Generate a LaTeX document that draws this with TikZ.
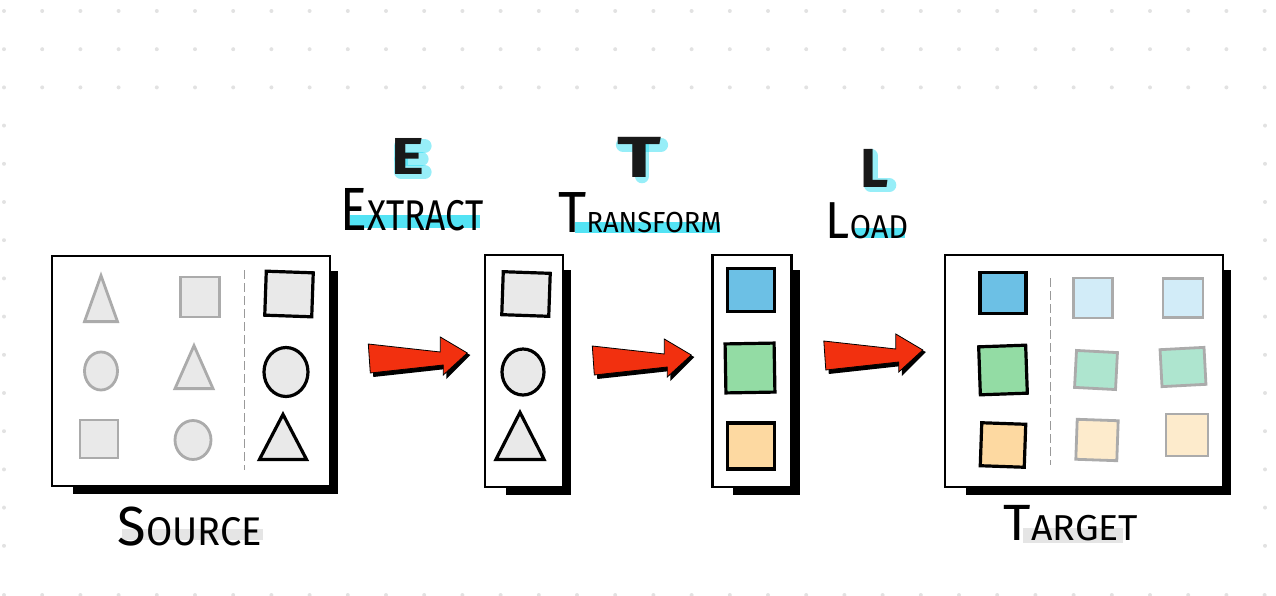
\documentclass[tikz,border=0pt]{standalone}
\usepackage{fontspec}
\setmainfont{Fira Sans}
\usetikzlibrary{positioning, calc, shapes.geometric, backgrounds}
\definecolor{ghostLine}{HTML}{ABABAB}
\definecolor{shapeFill}{HTML}{E9E9E9}
\definecolor{dotGrey}{HTML}{E2E2E2}
\definecolor{arrowRed}{HTML}{F2300F}
\definecolor{glowCyan}{HTML}{19D9F0}
\definecolor{blueFull}{HTML}{6CC0E5}
\definecolor{greenFull}{HTML}{93DCA4}
\definecolor{orangeFull}{HTML}{FDD9A1}
\definecolor{blueFade}{HTML}{D2ECF8}
\definecolor{greenFade}{HTML}{AEE5CF}
\definecolor{orangeFade}{HTML}{FDEBCC}
\definecolor{markGrey}{HTML}{DCDCDC}
\tikzset{
  panel/.style={rectangle, draw=black, line width=2.6pt, fill=white, inner sep=0pt},
  ghost/.style={draw=ghostLine, line width=2.8pt, fill=shapeFill, inner sep=0pt},
  inked/.style={draw=black, line width=3.2pt, fill=shapeFill, inner sep=0pt},
  tinted/.style={draw=black, line width=3.2pt, fill=#1, inner sep=0pt},
  faded/.style={draw=ghostLine, line width=2.8pt, fill=#1, inner sep=0pt},
  tri/.style={isosceles triangle, isosceles triangle stretches, shape border rotate=90, anchor=lower side},
  oval/.style={ellipse},
  divider/.style={draw=gray!80, line width=0.8pt, dash pattern=on 9pt off 4pt},
  word/.style={anchor=base, inner sep=0pt, text=black},
  bigletter/.style={font=\bfseries\fontsize{#1}{#1}\selectfont, inner sep=0pt, text=black!90},
  hilite/.style={fill=#1, opacity=0.75},
  glow/.style={draw=glowCyan, line width=14pt, opacity=0.45, line cap=round, line join=round},
}
% first letter large, the rest in smaller capitals, squeezed to the hand-drawn width
\newcommand{\capword}[5]{\scalebox{#5}[1]{{\fontsize{#3}{#3}\selectfont #1}{\fontsize{#4}{#4}\selectfont #2}}}
\newcommand{\panelshadow}[1]{\fill[black] ($(#1.south west)+(22,7)$) rectangle ($(#1.north east)+(7,16)$);}
\newcommand{\redarrow}[1]{%
  \begin{scope}[shift={(#1)}]
    \fill[black] (4,-11) -- (75,-3) -- (75,-18) -- (103,-3) -- (79,21) -- (79,11) -- (6,19) -- cycle;
    \filldraw[fill=arrowRed, draw=black, line width=0.8pt]
      (1,-14) -- (73,-6) -- (73,-21) -- (100,-5) -- (76,17) -- (76,7) -- (3,15) -- cycle;
  \end{scope}}

\begin{document}
\begin{tikzpicture}[x=1pt, y=-1pt]
  \useasboundingbox (0,0) rectangle (1276,596);

  % --- the four boxes ---
  \node[panel, minimum width=278pt, minimum height=230pt] (src) at (191,371) {};
  \node[panel, minimum width=78pt,  minimum height=232pt] (ext) at (524,371) {};
  \node[panel, minimum width=79pt,  minimum height=232pt] (trf) at (752,371) {};
  \node[panel, minimum width=278pt, minimum height=232pt] (tgt) at (1084,371) {};

  % --- source contents ---
  \draw[divider] (244,270) -- (244,470);
  \node[ghost, tri, minimum width=33pt, minimum height=46pt] (s11) at (101,323) {};
  \node[ghost, rectangle, minimum width=39pt, minimum height=40pt] (s12) at (200,297) {};
  \node[inked, rectangle, minimum width=47pt, minimum height=44pt, rotate=-2] (s13) at (289,294) {};
  \node[ghost, oval, minimum width=33pt, minimum height=38pt] (s21) at (101,371) {};
  \node[ghost, tri, minimum width=38pt, minimum height=43pt] (s22) at (194,390) {};
  \node[inked, oval, minimum width=44pt, minimum height=49pt] (s23) at (286,372) {};
  \node[ghost, rectangle, minimum width=38pt, minimum height=38pt] (s31) at (99,439) {};
  \node[ghost, oval, minimum width=36pt, minimum height=39pt] (s32) at (193,440) {};
  \node[inked, tri, minimum width=47pt, minimum height=45pt] (s33) at (283,461) {};

  % --- extracted column ---
  \node[inked, rectangle, minimum width=47pt, minimum height=43pt, rotate=-2] (e1) at (526,294) {};
  \node[inked, oval, minimum width=42pt, minimum height=46pt] (e2) at (523,372) {};
  \node[inked, tri, minimum width=48pt, minimum height=47pt] (e3) at (520,461) {};

  % --- transformed column ---
  \node[tinted=blueFull, rectangle, minimum width=47pt, minimum height=43pt] (t1) at (751,290) {};
  \node[tinted=greenFull, rectangle, minimum width=49pt, minimum height=49pt, rotate=1] (t2) at (750,368) {};
  \node[tinted=orangeFull, rectangle, minimum width=47pt, minimum height=46pt] (t3) at (751,446) {};

  % --- target contents ---
  \draw[divider] (1050,278) -- (1050,465);
  \node[tinted=blueFull, rectangle, minimum width=46pt, minimum height=41pt] (g11) at (1003,293) {};
  \node[tinted=greenFull, rectangle, minimum width=47pt, minimum height=48pt, rotate=2] (g21) at (1003,370) {};
  \node[tinted=orangeFull, rectangle, minimum width=44pt, minimum height=43pt, rotate=-2] (g31) at (1003,445) {};
  \node[faded=blueFade, rectangle, minimum width=39pt, minimum height=40pt] (g12) at (1093,298) {};
  \node[faded=greenFade, rectangle, minimum width=41pt, minimum height=37pt, rotate=-3] (g22) at (1096,370) {};
  \node[faded=orangeFade, rectangle, minimum width=41pt, minimum height=40pt, rotate=-2] (g32) at (1097,440) {};
  \node[faded=blueFade, rectangle, minimum width=40pt, minimum height=39pt] (g13) at (1183,298) {};
  \node[faded=greenFade, rectangle, minimum width=44pt, minimum height=37pt, rotate=3] (g23) at (1183,367) {};
  \node[faded=orangeFade, rectangle, minimum width=42pt, minimum height=42pt] (g33) at (1187,435) {};

  % --- red arrows between the boxes ---
  \coordinate (a1) at ($(src.east)+(36,-13)$);
  \coordinate (a2) at ($(ext.east)+(27,-11)$);
  \coordinate (a3) at ($(trf.east)+(30,-16)$);
  \redarrow{a1}
  \redarrow{a2}
  \redarrow{a3}

  % --- step letters and captions ---
  \node[bigletter=52] (lE) at (408,156) {\scalebox{1.2}[1]{E}};
  \node[bigletter=58] (lT) at (639,157) {\scalebox{1.4}[1]{T}};
  \node[bigletter=55] (lL) at (875,168) {L};
  \node[word] (extract) at (412,230) {\capword{E}{XTRACT}{61}{43}{0.82}};
  \node[word] (transform) at (640,232) {\capword{T}{RANSFORM}{58}{29}{0.94}};
  \node[word] (load) at (867,238) {\capword{L}{OAD}{52}{33}{0.93}};
  \node[word] (source) at (190,545) {\capword{S}{OURCE}{55}{40}{0.95}};
  \node[word] (target) at (1071,540) {\capword{T}{ARGET}{51}{36}{1.04}};

  \begin{scope}[on background layer]
    % dotted paper
    \foreach \i in {0,...,33} {
      \foreach \j in {0,1,2}
        \fill[dotGrey] (4+38.2*\i, 11+38.2*\j) circle[radius=2pt];
      \fill[dotGrey] (4+38.2*\i, 595) circle[radius=2pt];
    }
    \foreach \j in {3,...,14} {
      \fill[dotGrey] (4, 11+38.2*\j) circle[radius=2pt];
      \fill[dotGrey] (1265, 11+38.2*\j) circle[radius=2pt];
    }
    % box shadows
    \panelshadow{src}
    \panelshadow{ext}
    \panelshadow{trf}
    \panelshadow{tgt}
    % marker strokes under the captions
    \fill[hilite=glowCyan] (350,215) rectangle (480,228);
    \fill[hilite=glowCyan] (575,222) rectangle (720,233);
    \fill[hilite=glowCyan] (855,228) rectangle (905,238);
    \fill[hilite=markGrey] (122,529) rectangle (263,540);
    \fill[hilite=markGrey] (1023,528) rectangle (1123,543);
    % cyan glow behind the step letters
    \draw[glow] ($(lE.north east)+(0,8)$) -- ($(lE.north west)+(10,8)$) -- ($(lE.south west)+(10,-2)$) -- ($(lE.south east)+(0,-2)$);
    \draw[glow] ($(lE.west)+(10,3)$) -- ($(lE.east)+(-3,3)$);
    \draw[glow] ($(lT.north west)+(6,8)$) -- ($(lT.north east)+(0,8)$);
    \draw[glow] ($(lT.north)+(3,8)$) -- ($(lT.south)+(3,-1)$);
    \draw[glow] ($(lL.north west)+(10,7)$) -- ($(lL.south west)+(10,-2)$) -- ($(lL.south east)+(0,-2)$);
  \end{scope}
\end{tikzpicture}
\end{document}
